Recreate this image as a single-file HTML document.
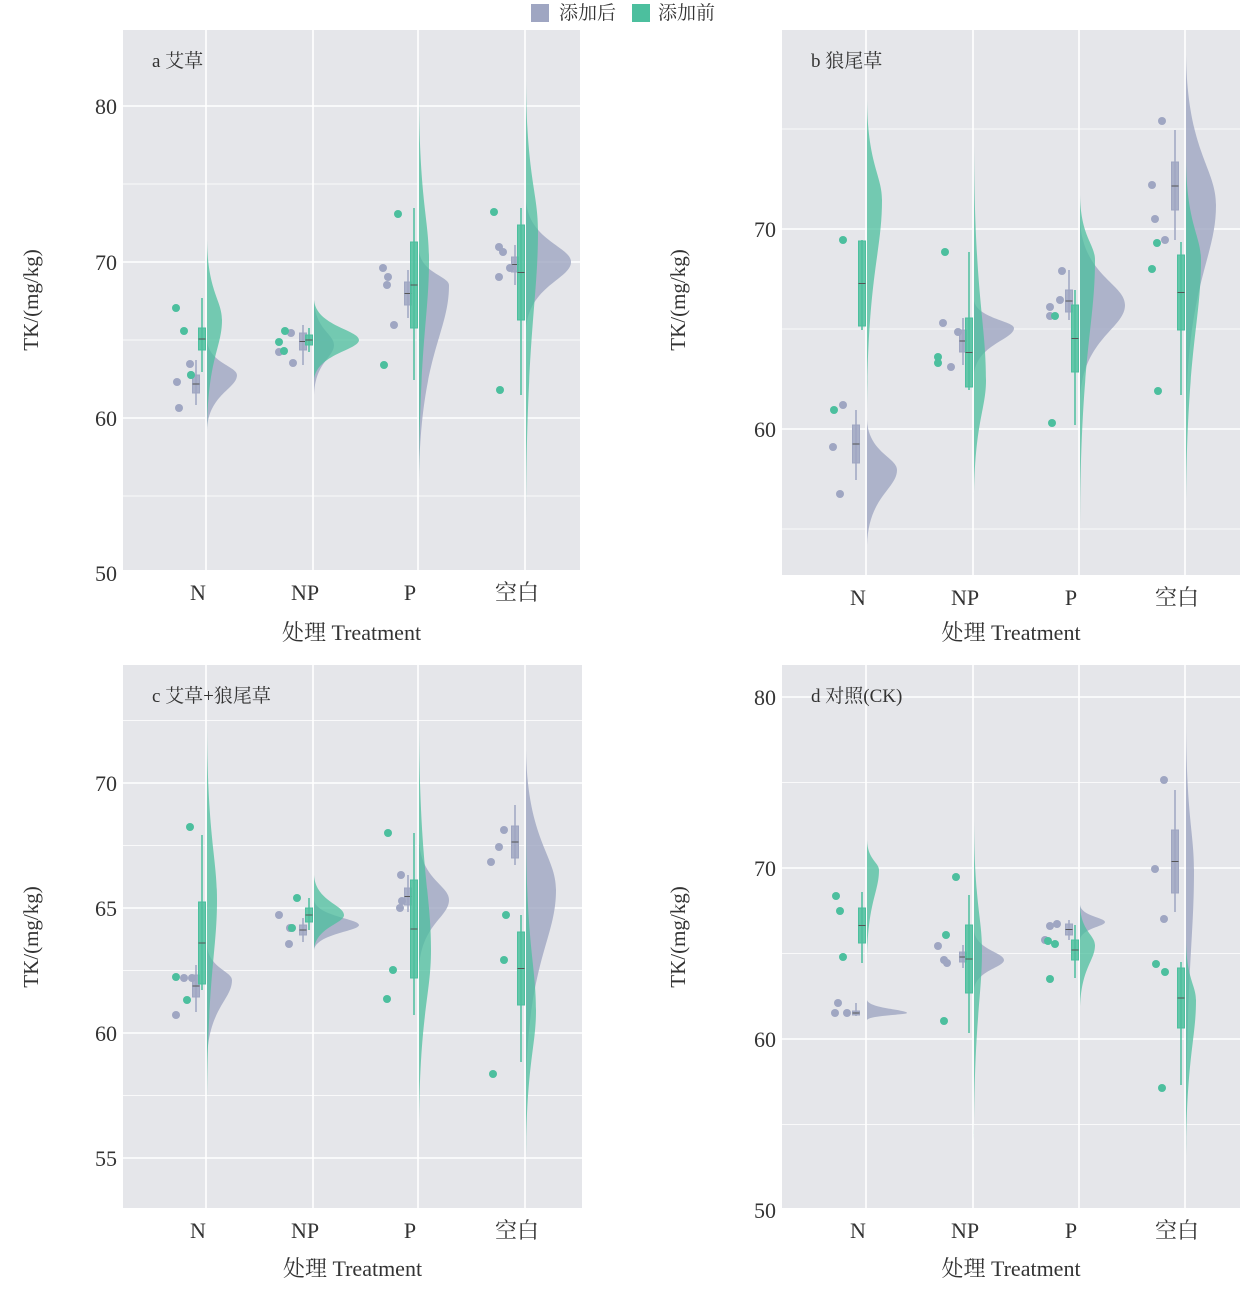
<!DOCTYPE html>
<html><head><meta charset="utf-8"><style>
body{margin:0;background:#fff;}
svg text{font-family:"Liberation Serif","Noto Serif CJK SC",serif;fill:#333;}
</style></head><body>
<svg id="s" width="1242" height="1290" xmlns="http://www.w3.org/2000/svg">
<text x="559" y="19" font-size="19" fill="#444">添加后</text>
<rect x="531" y="4" width="18" height="18" fill="#9fa6c2"/>
<rect x="632" y="4" width="18" height="18" fill="#4cbf9e"/>
<text x="658" y="19" font-size="19" fill="#444">添加前</text>
</svg>
<script>
var s=document.getElementById('s'),NS='http://www.w3.org/2000/svg';
function el(t,a,txt){var e=document.createElementNS(NS,t);for(var k in a)e.setAttribute(k,a[k]);if(txt)e.textContent=txt;s.appendChild(e);return e;}
var G='#9fa6c2',T='#4cbf9e';
var panels=[
{x0:123,x1:580,y0:30,y1:570,cats:[198,305,410,517],ticks:[[106,'80'],[262,'70'],[418,'60'],[573,'50']],label:'a 艾草',ty:300,tx:38,xt:640,
d:[
{g:[340,375,430,30],t:[240,320,430,15],gb:[375,393,360,405],tb:[328,350,298,372],gp:[[177,382],[190,364],[179,408],[191,375]],tp:[[176,308],[184,331],[191,375]]},
{g:[300,345,395,20],t:[300,340,380,45],gb:[333,350,325,365],tb:[335,345,328,352],gp:[[291,333],[279,352],[293,363]],tp:[[285,331],[279,342],[284,351]]},
{g:[250,285,480,30],t:[95,260,490,10],gb:[282,305,270,318],tb:[242,328,208,380],gp:[[383,268],[388,277],[387,285],[394,325]],tp:[[398,214],[384,365]]},
{g:[200,262,330,45],t:[80,230,520,12],gb:[257,272,245,285],tb:[225,320,208,395],gp:[[499,247],[499,277],[510,268],[503,252]],tp:[[494,212],[500,390]]}]},
{x0:782,x1:1240,y0:30,y1:575,cats:[858,965,1071,1177],ticks:[[229,'70'],[429,'60']],label:'b 狼尾草',ty:300,tx:685,xt:640,
d:[
{g:[420,470,545,30],t:[100,200,410,15],gb:[425,463,410,480],tb:[241,326,240,330],gp:[[833,447],[840,494],[843,405]],tp:[[834,410],[843,240]]},
{g:[300,328,375,40],t:[145,380,500,12],gb:[330,352,318,365],tb:[318,387,252,390],gp:[[943,323],[951,367],[958,332]],tp:[[945,252],[938,357],[938,363]]},
{g:[220,305,400,45],t:[195,260,525,15],gb:[290,312,270,320],tb:[305,372,290,425],gp:[[1062,271],[1050,307],[1050,316],[1060,300]],tp:[[1052,423],[1055,316]]},
{g:[55,205,420,30],t:[160,260,510,15],gb:[162,210,130,240],tb:[255,330,242,395],gp:[[1162,121],[1152,185],[1155,219],[1165,240]],tp:[[1157,243],[1152,269],[1158,391]]}]},
{x0:123,x1:582,y0:665,y1:1208,cats:[198,305,410,517],ticks:[[783,'70'],[908,'65'],[1033,'60'],[1158,'55']],label:'c 艾草+狼尾草',ty:937,tx:38,xt:1276,
d:[
{g:[945,980,1060,25],t:[725,900,1110,10],gb:[975,997,965,1012],tb:[902,984,835,990],gp:[[176,1015],[184,978],[192,978]],tp:[[176,977],[190,827],[187,1000]]},
{g:[900,925,950,45],t:[875,915,950,30],gb:[925,935,918,942],tb:[908,922,898,930],gp:[[279,915],[290,928],[289,944]],tp:[[297,898],[292,928]]},
{g:[840,900,970,30],t:[720,950,1130,12],gb:[888,905,875,912],tb:[880,978,833,1015],gp:[[401,875],[400,908],[402,901]],tp:[[388,833],[393,970],[387,999]]},
{g:[750,890,1090,30],t:[830,1010,1160,10],gb:[826,858,805,865],tb:[932,1005,915,1062],gp:[[504,830],[499,847],[491,862]],tp:[[506,915],[504,960],[493,1074]]}]},
{x0:782,x1:1240,y0:665,y1:1208,cats:[858,965,1071,1177],ticks:[[697,'80'],[868,'70'],[1039,'60'],[1210,'50']],label:'d 对照(CK)',ty:937,tx:685,xt:1276,
d:[
{g:[1000,1013,1020,40],t:[840,870,960,12],gb:[1011,1015,1003,1016],tb:[908,943,892,963],gp:[[838,1003],[835,1013],[847,1013]],tp:[[836,896],[840,911],[843,957]]},
{g:[930,960,990,30],t:[820,950,1140,8],gb:[952,962,945,968],tb:[925,993,895,1033],gp:[[938,946],[944,960],[947,963]],tp:[[946,935],[956,877],[944,1021]]},
{g:[905,922,940,25],t:[905,945,1010,15],gb:[924,935,920,940],tb:[940,960,925,978],gp:[[1050,926],[1057,924],[1045,940]],tp:[[1048,941],[1055,944],[1050,979]]},
{g:[720,870,1150,8],t:[940,1000,1160,10],gb:[830,893,790,912],tb:[968,1028,962,1085],gp:[[1164,780],[1155,869],[1164,919]],tp:[[1156,964],[1165,972],[1162,1088]]}]}
];
function vio(x,v,c,o){var t=v[0],p=v[1],b=v[2],w=v[3];
el('path',{d:'M'+x+','+t+' C'+(x+w*0.05)+','+(t+(p-t)*0.65)+' '+(x+w)+','+(p-(p-t)*0.25)+' '+(x+w)+','+p+' C'+(x+w)+','+(p+(b-p)*0.25)+' '+(x+w*0.05)+','+(b-(b-p)*0.65)+' '+x+','+b+' Z',fill:c,'fill-opacity':o});}
function box(x,b,c){el('line',{x1:x,x2:x,y1:b[2],y2:b[3],stroke:c,'stroke-width':1.5});
el('rect',{x:x-3.5,y:b[0],width:7,height:b[1]-b[0],fill:c,stroke:c,'stroke-width':1,'fill-opacity':0.85});
el('line',{x1:x-3.5,x2:x+3.5,y1:(b[0]+b[1])/2,y2:(b[0]+b[1])/2,stroke:'#555','stroke-width':1});}
panels.forEach(function(P){
el('rect',{x:P.x0,y:P.y0,width:P.x1-P.x0,height:P.y1-P.y0,fill:'#e5e6ea'});
var tk=P.ticks;var step=tk[1][0]-tk[0][0];
for(var y=tk[0][0]-step*1.5;y<=P.y1+1;y+=step/2){if(y<P.y0)continue;var maj=Math.abs(((y-tk[0][0])/step)-Math.round((y-tk[0][0])/step))<0.01;
el('line',{x1:P.x0,x2:P.x1,y1:y,y2:y,stroke:'#fff','stroke-width':maj?1.6:0.8});}
P.cats.forEach(function(cx){el('line',{x1:cx+8,x2:cx+8,y1:P.y0,y2:P.y1,stroke:'#fff','stroke-width':1.6});});
tk.forEach(function(t){el('text',{x:P.x0-6,y:t[0]+8,'font-size':22,'text-anchor':'end'},t[1]);});
['N','NP','P','空白'].forEach(function(n,i){el('text',{x:P.cats[i],y:P.y1+30,'font-size':22,'text-anchor':'middle'},n);});
el('text',{x:(P.x0+P.x1)/2,y:P.xt,'font-size':22,'text-anchor':'middle'},'处理 Treatment');
el('text',{x:P.tx,y:P.ty,'font-size':21,'text-anchor':'middle',transform:'rotate(-90 '+P.tx+' '+P.ty+')'},'TK/(mg/kg)');
el('text',{x:P.x0+29,y:P.y0+37,'font-size':19},P.label);
P.d.forEach(function(d,i){var cx=P.cats[i];
vio(cx+9,d.g,G,0.8);vio(cx+9,d.t,T,0.75);
box(cx-2,d.gb,G);box(cx+4,d.tb,T);
d.gp.forEach(function(p){el('circle',{cx:p[0],cy:p[1],r:4,fill:G});});
d.tp.forEach(function(p){el('circle',{cx:p[0],cy:p[1],r:4,fill:T});});
});
});
</script>
</body></html>
